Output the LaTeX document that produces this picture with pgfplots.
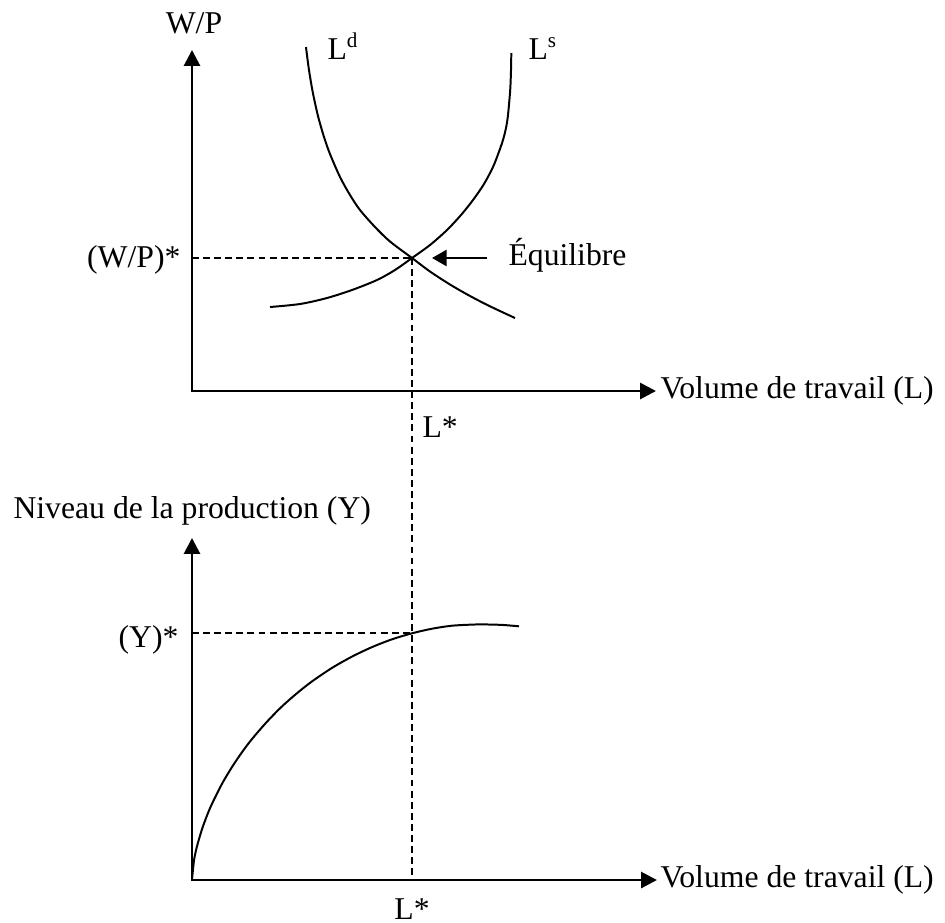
\documentclass[border=0pt]{standalone}
\usepackage{pgfplots}
\pgfplotsset{compat=1.18}
\usepackage{fontspec}
\setmainfont{Liberation Serif}
\usetikzlibrary{arrows.meta}
\tikzset{lab/.style={font=\fontsize{12}{14.4}\selectfont, inner sep=0pt}}
\begin{document}
\begin{tikzpicture}
\begin{axis}[x=0.3785pt, y=0.3785pt, xmin=0, xmax=945, ymin=0, ymax=922,
  y dir=reverse, hide axis, clip=false]
% bounding frame
\path[draw=none] (axis cs:0,0) rectangle (axis cs:945,922);
% top panel axes
\addplot[line width=1.1pt, {Triangle[length=6pt,width=6pt]}-{Triangle[length=6pt,width=6pt]}]
  coordinates {(192,50) (192,391) (656,391)};
% bottom panel axes
\addplot[line width=1.1pt, {Triangle[length=6pt,width=6pt]}-{Triangle[length=6pt,width=6pt]}]
  coordinates {(192,538) (192,880) (657,880)};
% dashed guides
\addplot[line width=0.75pt, dash pattern=on 2.6pt off 1.6pt] coordinates {(192,258) (412,258)};
\addplot[line width=0.75pt, dash pattern=on 2.6pt off 1.6pt] coordinates {(412,258) (412,880)};
\addplot[line width=0.75pt, dash pattern=on 2.6pt off 1.6pt] coordinates {(192,633) (412,633)};
% labour demand Ld
\addplot[line width=0.75pt, smooth, tension=0.5] coordinates {
  (306,47) (308,63) (310,76.5) (313,93.5) (318,116) (324,137) (330,154)
  (340,177) (350,195) (360,210) (375,227) (390,241.5) (412,258) (430,271.5)
  (450,284.5) (470,296) (490,306.3) (515,318)};
% labour supply Ls
\addplot[line width=0.75pt, smooth, tension=0.5] coordinates {
  (270,307) (300,304) (327,298) (352,290) (377,280) (395,270) (412,258)
  (430,245) (447,230) (461,215) (473,200) (484,184) (493,167) (498.5,153)
  (503,140) (506.2,127) (508,115) (510.2,90) (511,70) (511.3,53)};
% production function
\addplot[line width=0.75pt, smooth, tension=0.5] coordinates {
  (192,880) (194,860.4) (197,846.3) (202,829.2) (207,815.5) (212,803.8)
  (222,783.8) (232,767.0) (242,752.2) (252,739.0) (267,721.7) (282,706.4)
  (297,693.2) (312,681.4) (332,667.9) (352,656.6) (372,647.1) (392,639.3)
  (412,633.3) (432,628.7) (452,625.7) (472,624.6) (483,624.4) (502,624.9)
  (519,626.3)};
% equilibrium arrow
\addplot[line width=1pt, -{Triangle[length=5.5pt,width=6pt]}] coordinates {(487,258) (432,258)};
% labels
\node[lab, anchor=base] at (axis cs:194,33) {W/P};
\node[lab, anchor=base west] at (axis cs:327,59) {L\textsuperscript{d}};
\node[lab, anchor=base west] at (axis cs:528,59) {L\textsuperscript{s}};
\node[lab, anchor=base east] at (axis cs:181,267) {(W/P)*};
\node[lab, anchor=base west] at (axis cs:508,265) {Équilibre};
\node[lab, anchor=base west] at (axis cs:660,398) {Volume de travail (L)};
\node[lab, anchor=base west] at (axis cs:422,437) {L*};
\node[lab, anchor=base west] at (axis cs:13,518) {Niveau de la production (Y)};
\node[lab, anchor=base east] at (axis cs:179,647) {(Y)*};
\node[lab, anchor=base west] at (axis cs:660,887) {Volume de travail (L)};
\node[lab, anchor=base] at (axis cs:412,919) {L*};
\end{axis}
\end{tikzpicture}
\end{document}
